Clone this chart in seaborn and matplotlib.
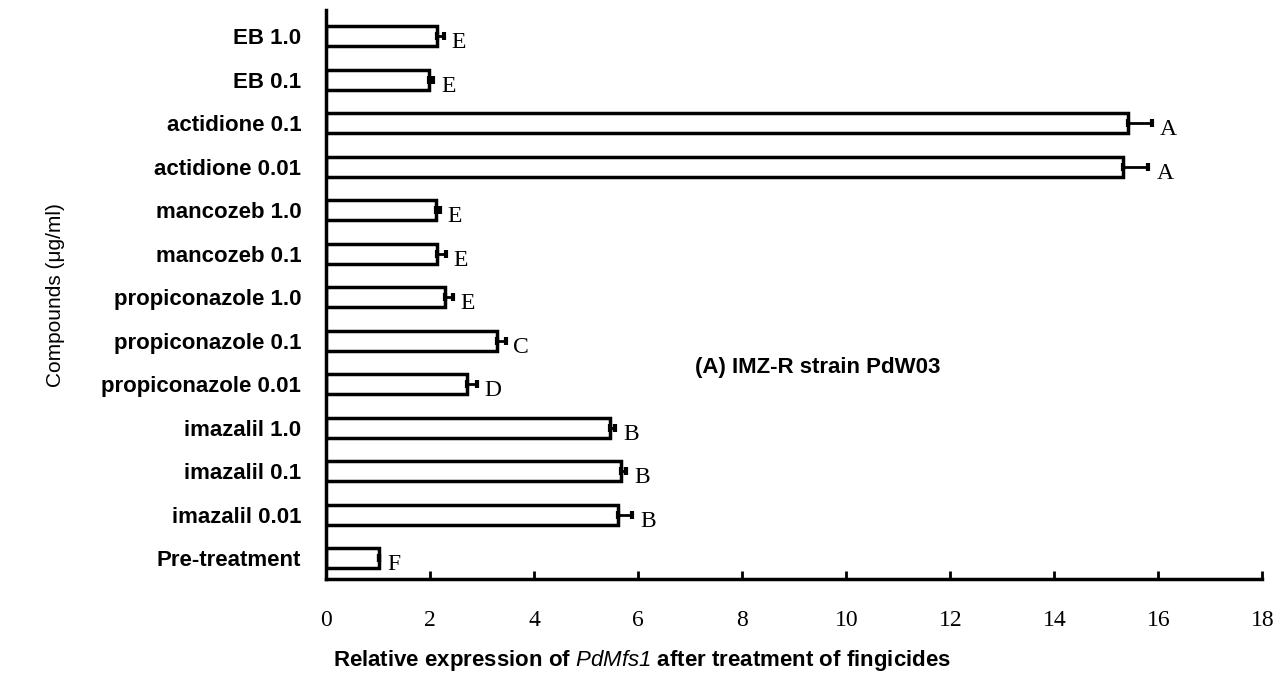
import pandas as pd
import seaborn as sns
import matplotlib.pyplot as plt
import numpy as np

# Relative expression of PdMfs1 (IMZ-R strain PdW03)
compounds = ['EB 1.0', 'EB 0.1', 'actidione 0.1', 'actidione 0.01',
             'mancozeb 1.0', 'mancozeb 0.1', 'propiconazole 1.0',
             'propiconazole 0.1', 'propiconazole 0.01', 'imazalil 1.0',
             'imazalil 0.1', 'imazalil 0.01', 'Pre-treatment']
expression = [2.13, 1.98, 15.42, 15.33, 2.12, 2.13, 2.29, 3.28, 2.71, 5.46, 5.67, 5.62, 1.02]
errors = [0.13, 0.08, 0.46, 0.48, 0.06, 0.17, 0.15, 0.17, 0.19, 0.10, 0.10, 0.27, 0.0]
letters = ['E', 'E', 'A', 'A', 'E', 'E', 'E', 'C', 'D', 'B', 'B', 'B', 'F']

df = pd.DataFrame({'Compound': compounds, 'Expression': expression, 'SE': errors})

sns.set_style('white')
plt.rcParams['font.family'] = ['Liberation Sans', 'DejaVu Sans']
plt.rcParams['text.color'] = 'black'
plt.rcParams['axes.labelcolor'] = 'black'
plt.rcParams['xtick.color'] = 'black'
plt.rcParams['ytick.color'] = 'black'
# italic gene name (digits included) inside the x label
plt.rcParams['mathtext.fontset'] = 'custom'
plt.rcParams['mathtext.rm'] = 'Liberation Sans:italic'

fig = plt.figure(figsize=(12.79, 6.76), dpi=100)
ax = fig.add_axes([0.255, 0.143, 0.732, 0.842])

sns.barplot(data=df, x='Expression', y='Compound', orient='h', color='white',
            edgecolor='black', linewidth=2.5, width=0.46, ax=ax)

ypos = np.arange(len(compounds))
ax.errorbar(df['Expression'], ypos, xerr=[np.zeros(len(errors)), df['SE']],
            fmt='none', ecolor='black', elinewidth=2, capsize=3, capthick=3)

for i, (v, e, l) in enumerate(zip(expression, errors, letters)):
    ax.text(v + e + 0.15, i + 0.15, l, family='Liberation Serif', fontsize=17,
            ha='left', va='center')

ax.set_xlim(0, 18)
ax.set_ylim(12.48, -0.6)
ax.set_xticks(range(0, 19, 2))
for lab in ax.get_xticklabels():
    lab.set_family('Liberation Serif')
    lab.set_fontsize(17)
ax.tick_params(axis='x', bottom=True, direction='in', length=6, width=2, pad=22)
ax.tick_params(axis='y', left=False, length=0, pad=18, labelsize=16)
for lab in ax.get_yticklabels():
    lab.set_fontweight('bold')

sns.despine(ax=ax)
for s in ['left', 'bottom']:
    ax.spines[s].set_linewidth(2.5)
    ax.spines[s].set_color('black')

ax.set_ylabel('Compounds (μg/ml)', fontsize=15, labelpad=26)
ax.set_xlabel('Relative expression of $\\mathrm{PdMfs1}$ after treatment of fingicides',
              fontsize=16, fontweight='bold')
ax.xaxis.set_label_coords(0.337, -0.12)
ax.text(7.1, 7.62, '(A) IMZ-R strain PdW03', fontsize=16, fontweight='bold',
        ha='left', va='center')

fig.savefig('out.png', dpi=100)
